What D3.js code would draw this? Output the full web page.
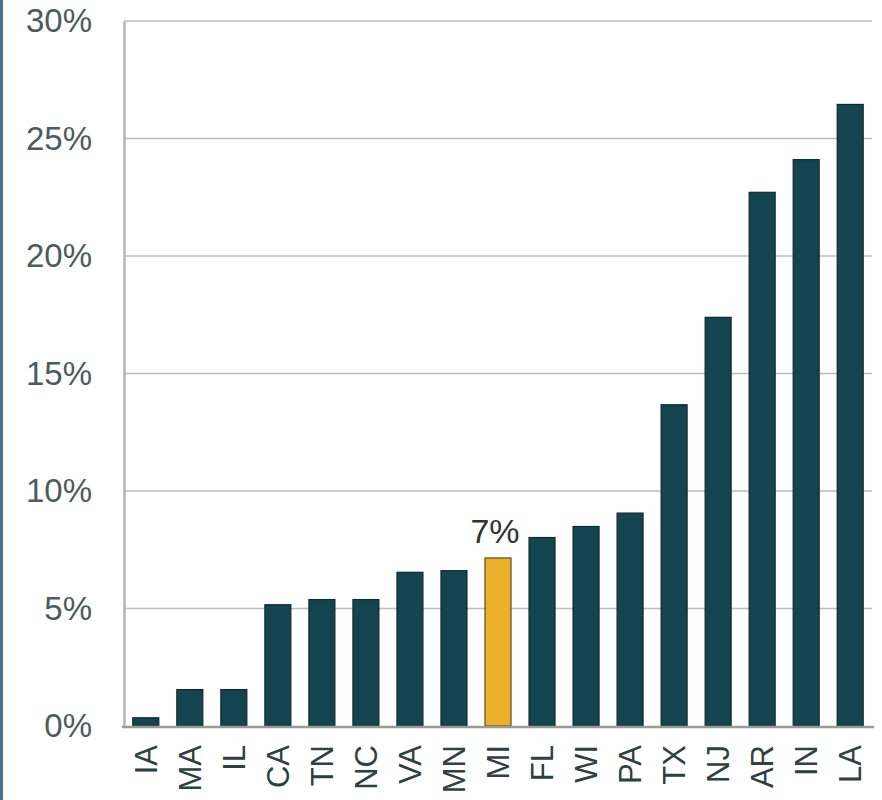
<!DOCTYPE html>
<html>
<head>
<meta charset="utf-8">
<script src="https://cdn.jsdelivr.net/npm/d3@7"></script>
<style>
  html, body { margin: 0; padding: 0; background: #fff; }
  svg { display: block; }
</style>
</head>
<body>
<svg id="chart" width="882" height="800"></svg>
<script>
// States, ordered by share
const states = ["IA","MA","IL","CA","TN","NC","VA","MN","MI","FL","WI","PA","TX","NJ","AR","IN","LA"];
// Share for each state, in percent
const shares = [0.35, 1.55, 1.55, 5.16, 5.38, 5.38, 6.54, 6.61, 7.15, 8.02, 8.49, 9.06, 13.67, 17.39, 22.71, 24.1, 26.45];
// Highlighted state
const highlight = "MI";
// Y-axis ticks, in percent
const yTicks = [0, 5, 10, 15, 20, 25, 30];

const data = states.map((s, i) => ({ state: s, value: shares[i] }));

const svg = d3.select("#chart");
const plotLeft = 124, plotRight = 872, plotTop = 21, plotBottom = 726;

const x = d3.scaleBand().domain(states).range([plotLeft, plotRight]).paddingInner(0.41).paddingOuter(0.2);
const y = d3.scaleLinear().domain([0, 30]).range([plotBottom, plotTop]);

// Left frame rule
svg.append("rect").attr("x", 0).attr("y", 0).attr("width", 3).attr("height", 800).attr("fill", "#47768c");

// Gridlines
svg.append("g").selectAll("line")
  .data(yTicks.filter(t => t > 0))
  .join("line")
  .attr("x1", plotLeft).attr("x2", plotRight)
  .attr("y1", d => y(d)).attr("y2", d => y(d))
  .attr("stroke", "#bdbdbd").attr("stroke-width", 1.5);

// Y axis
const yAxis = svg.append("g")
  .attr("transform", `translate(${plotLeft},0)`)
  .call(d3.axisLeft(y).tickValues(yTicks).tickFormat(d => d + "%").tickSize(0).tickPadding(32));
yAxis.select(".domain").attr("stroke", "#b5b5b5").attr("stroke-width", 2.5);
yAxis.selectAll("text")
  .attr("font-family", "Liberation Sans, Arial, sans-serif")
  .attr("font-size", 33)
  .attr("fill", "#4d5b5b");

// Bars
svg.append("g").selectAll("rect")
  .data(data)
  .join("rect")
  .attr("x", d => x(d.state))
  .attr("y", d => y(d.value))
  .attr("width", x.bandwidth())
  .attr("height", d => y(0) - y(d.value))
  .attr("fill", d => d.state === highlight ? "#ebb02c" : "#134450")
  .attr("stroke", d => d.state === highlight ? "#5a4a20" : "#0b2a32")
  .attr("stroke-width", 1.2);

// Baseline
svg.append("line")
  .attr("x1", plotLeft - 2).attr("x2", plotRight + 2)
  .attr("y1", y(0) + 1).attr("y2", y(0) + 1)
  .attr("stroke", "#9a9a9a").attr("stroke-width", 2.5);

// X axis labels, rotated
svg.append("g").selectAll("text")
  .data(states)
  .join("text")
  .attr("transform", d => `translate(${x(d) + x.bandwidth() / 2 + 11},745) rotate(-90)`)
  .attr("text-anchor", "end")
  .attr("font-family", "Liberation Sans, Arial, sans-serif")
  .attr("font-size", 31)
  .attr("fill", "#2f4040")
  .text(d => d);

// Value label for highlighted bar
const hl = data.find(d => d.state === highlight);
svg.append("text")
  .attr("x", x(hl.state) + x.bandwidth() / 2 - 3)
  .attr("y", y(hl.value) - 15)
  .attr("text-anchor", "middle")
  .attr("font-family", "Liberation Sans, Arial, sans-serif")
  .attr("font-size", 34)
  .attr("fill", "#333")
  .text(Math.round(hl.value) + "%");
</script>
</body>
</html>
